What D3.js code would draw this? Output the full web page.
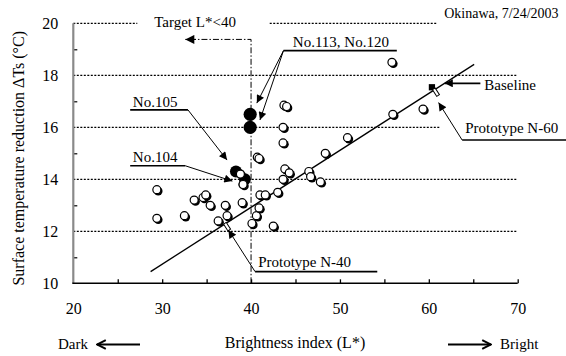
<!DOCTYPE html>
<html>
<head>
<meta charset="utf-8">
<script src="https://cdn.jsdelivr.net/npm/d3@7"></script>
<style>
  body { margin: 0; background: #fff; }
  svg text { font-family: "Liberation Serif", "Times New Roman", Times, serif; fill: #000; }
</style>
</head>
<body>
<div id="chart"></div>
<script>
// open markers: brightness index L* vs surface temperature reduction (deg C)
var sampleL = [29.4, 29.4, 32.5, 33.6, 34.6, 34.9, 35.4, 36.3, 37.1, 37.3, 38.8, 39.0, 39.1,
               40.1, 40.6, 40.9, 40.7, 40.9, 41.0, 41.6, 42.5, 43.0, 43.6, 43.8, 44.3, 43.6,
               43.6, 43.7, 44.0, 46.5, 46.7, 47.8, 48.35, 50.85, 55.95, 55.85, 59.35];
var sampleT = [12.5, 13.6, 12.6, 13.2, 13.3, 13.4, 13.0, 12.4, 13.0, 12.6, 14.2, 13.1, 13.8,
               12.3, 12.6, 12.9, 14.85, 14.8, 13.4, 13.4, 12.2, 13.5, 14.0, 14.4, 14.25, 15.4,
               16.0, 16.85, 16.8, 14.3, 14.1, 13.9, 15.0, 15.6, 16.5, 18.5, 16.7];

// filled markers: No.113, No.120, No.105, No.104
var pickNames = ["No.113", "No.120", "No.105", "No.104"];
var pickL = [39.9, 39.9, 38.3, 39.3];
var pickT = [16.5, 16.0, 14.3, 14.0];

var baselineL = 60.35, baselineT = 17.54;
var protoNames = ["Prototype N-60", "Prototype N-40"];
var protoL = [60.8, 37.3];
var protoT = [17.35, 12.18];

// trend line end points
var fitL = [28.7, 65.1];
var fitT = [10.45, 18.42];

var xTicks = [20, 30, 40, 50, 60, 70];
var xMinor = [25, 30, 35, 40, 45, 50, 55, 60, 65, 70];
var yTicks = [10, 12, 14, 16, 18, 20];
var yMinor = [11, 13, 15, 17, 19];
var targetL = 40;

var W = 566, H = 356;
var svg = d3.select("#chart").append("svg").attr("width", W).attr("height", H)
  .attr("font-family", "Liberation Serif, Times New Roman, serif");

var x = d3.scaleLinear().domain([20, 70]).range([73.3, 517.7]);
var y = d3.scaleLinear().domain([10, 20]).range([283.3, 23.3]);

var defs = svg.append("defs");
defs.append("marker").attr("id", "tri")
  .attr("viewBox", "0 0 10 10").attr("refX", 10).attr("refY", 5)
  .attr("markerUnits", "userSpaceOnUse").attr("markerWidth", 10).attr("markerHeight", 8)
  .attr("orient", "auto")
  .append("path").attr("d", "M0,0L10,5L0,10z").attr("fill", "#000");
defs.append("marker").attr("id", "bigtri")
  .attr("viewBox", "0 0 10 10").attr("refX", 10).attr("refY", 5)
  .attr("markerUnits", "userSpaceOnUse").attr("markerWidth", 13).attr("markerHeight", 9)
  .attr("orient", "auto")
  .append("path").attr("d", "M0,0L10,5L0,10z").attr("fill", "#000");
defs.append("marker").attr("id", "chev")
  .attr("viewBox", "0 0 10 10").attr("refX", 9).attr("refY", 5)
  .attr("markerUnits", "userSpaceOnUse").attr("markerWidth", 11).attr("markerHeight", 12)
  .attr("orient", "auto")
  .append("path").attr("d", "M1,1L9,5L1,9").attr("fill", "none")
  .attr("stroke", "#000").attr("stroke-width", 1.8);

// grid (dotted) - gaps where labels sit
var gridSpans = { 20: [[20, 27.2], [42.1, 60.95]], 16: [[20, 61.3]] };
yTicks.slice(1).forEach(function(t) {
  (gridSpans[t] || [[20, 70]]).forEach(function(s) {
    svg.append("line")
      .attr("x1", x(s[0])).attr("x2", x(s[1]))
      .attr("y1", y(t)).attr("y2", y(t))
      .attr("stroke", "#000").attr("stroke-width", 1.2)
      .attr("stroke-dasharray", "2,1.5");
  });
});

// axes
var yAxis = svg.append("g").attr("transform", "translate(" + x(20) + ",0)")
  .call(d3.axisLeft(y).tickValues(yTicks).tickSize(0).tickPadding(15));
yAxis.attr("font-family", null).attr("font-size", null);
yAxis.select(".domain").remove();
yAxis.selectAll("text").style("font-size", "16px");

svg.append("g").attr("transform", "translate(" + x(20) + ",0)")
  .call(d3.axisRight(y).tickValues(yMinor).tickSize(4).tickFormat(""))
  .call(function(g) { g.select(".domain").remove(); g.selectAll("line").attr("stroke-width", 1.2); });

svg.append("line")
  .attr("x1", x(20)).attr("x2", x(20)).attr("y1", y(20)).attr("y2", y(10))
  .attr("stroke", "#8a8a8a").attr("stroke-width", 2.2);

var xAxis = svg.append("g").attr("transform", "translate(0," + y(10) + ")")
  .call(d3.axisBottom(x).tickValues(xTicks).tickSize(0).tickPadding(19));
xAxis.attr("font-family", null).attr("font-size", null);
xAxis.select(".domain").remove();
xAxis.selectAll("text").style("font-size", "16px");

svg.append("g").attr("transform", "translate(0," + y(10) + ")")
  .call(d3.axisTop(x).tickValues(xMinor).tickSize(4).tickFormat(""))
  .call(function(g) { g.select(".domain").remove(); g.selectAll("line").attr("stroke-width", 1.3); });

svg.append("line")
  .attr("x1", x(20) - 1).attr("x2", x(70)).attr("y1", y(10)).attr("y2", y(10))
  .attr("stroke", "#000").attr("stroke-width", 1.5);

// axis titles
svg.append("text")
  .attr("transform", "translate(18," + ((y(10) + y(20)) / 2 + 5) + ") rotate(-90)")
  .attr("text-anchor", "middle").attr("dy", "0.35em")
  .style("font-size", "16px")
  .text("Surface temperature reduction \u0394Ts (\u00B0C)");

svg.append("text").attr("x", 295).attr("y", 348).attr("text-anchor", "middle")
  .style("font-size", "16px").text("Brightness index (L*)");

svg.append("text").attr("x", 58).attr("y", 349).style("font-size", "15px").text("Dark");
svg.append("line").attr("x1", 140).attr("x2", 97).attr("y1", 344.5).attr("y2", 344.5)
  .attr("stroke", "#000").attr("stroke-width", 1.8).attr("marker-end", "url(#chev)");
svg.append("text").attr("x", 500).attr("y", 349).style("font-size", "15px").text("Bright");
svg.append("line").attr("x1", 448).attr("x2", 491).attr("y1", 344.5).attr("y2", 344.5)
  .attr("stroke", "#000").attr("stroke-width", 1.8).attr("marker-end", "url(#chev)");

// target line L* = 40 (dash-dot)
svg.append("path")
  .attr("d", d3.line()([[x(targetL), y(10)], [x(targetL), y(19.38)], [x(33.6), y(19.38)]]))
  .attr("fill", "none").attr("stroke", "#000").attr("stroke-width", 1)
  .attr("stroke-dasharray", "6,2,1.5,2");
svg.append("line")
  .attr("x1", x(33.8)).attr("x2", x(32.6)).attr("y1", y(19.38)).attr("y2", y(19.38))
  .attr("stroke", "#000").attr("marker-end", "url(#bigtri)");
svg.append("text").attr("x", x(33.7)).attr("y", y(19.86)).attr("text-anchor", "middle")
  .style("font-size", "15px").text("Target L*<40");

svg.append("text").attr("x", x(74.6)).attr("y", y(20.22)).attr("text-anchor", "end")
  .style("font-size", "14px").text("Okinawa, 7/24/2003");

// trend line
svg.append("line")
  .attr("x1", x(fitL[0])).attr("y1", y(fitT[0]))
  .attr("x2", x(fitL[1])).attr("y2", y(fitT[1]))
  .attr("stroke", "#000").attr("stroke-width", 1.3);

// open sample markers with shadow
var samples = sampleL.map(function(l, i) { return { L: l, T: sampleT[i] }; });
var dots = svg.append("g");
samples.forEach(function(d) {
  dots.append("circle").attr("cx", x(d.L) + 1.4).attr("cy", y(d.T) + 1.4).attr("r", 4.3)
    .attr("fill", "#000");
  dots.append("circle").attr("cx", x(d.L)).attr("cy", y(d.T)).attr("r", 4)
    .attr("fill", "#fff").attr("stroke", "#000").attr("stroke-width", 1.2);
});

// highlighted samples
pickL.forEach(function(l, i) {
  svg.append("circle").attr("cx", x(l)).attr("cy", y(pickT[i]))
    .attr("r", i < 2 ? 6.6 : 6).attr("fill", "#000");
});
// open markers sitting on the No.105 / No.104 dots
[[38.8, 14.2], [39.1, 13.8]].forEach(function(p) {
  svg.append("circle").attr("cx", x(p[0])).attr("cy", y(p[1])).attr("r", 4)
    .attr("fill", "#fff").attr("stroke", "#000").attr("stroke-width", 1.2);
});

// baseline diamond
svg.append("path")
  .attr("d", d3.symbol().type(d3.symbolDiamond2).size(50)())
  .attr("transform", "translate(" + x(baselineL) + "," + y(baselineT) + ") rotate(45)")
  .attr("fill", "#000");

// prototype markers (small bars along the trend line)
var ang = Math.atan2(y(fitT[1]) - y(fitT[0]), x(fitL[1]) - x(fitL[0])) * 180 / Math.PI;
protoL.forEach(function(l, i) {
  svg.append("rect").attr("x", -1.6).attr("y", -4).attr("width", 3.2).attr("height", 8)
    .attr("transform", "translate(" + x(l) + "," + y(protoT[i]) + ") rotate(" + ang + ")")
    .attr("fill", "#fff").attr("stroke", "#000").attr("stroke-width", 1);
});

// callouts: label text, underline, leaders with arrowheads
function callout(text, tx, ty, ux0, ux1, uy, leaders) {
  svg.append("text").attr("x", x(tx)).attr("y", y(ty)).style("font-size", "15px").text(text);
  svg.append("line").attr("x1", x(ux0)).attr("x2", x(ux1)).attr("y1", y(uy)).attr("y2", y(uy))
    .attr("stroke", "#000").attr("stroke-width", 1.6);
  leaders.forEach(function(ld) {
    svg.append("line")
      .attr("x1", x(ld[0])).attr("y1", y(ld[1]))
      .attr("x2", x(ld[2])).attr("y2", y(ld[3]))
      .attr("stroke", "#000").attr("stroke-width", 1).attr("marker-end", "url(#tri)");
  });
}

callout(pickNames[0] + ", " + pickNames[1], 44.7, 19.09, 43.65, 56.4, 18.95,
  [[43.65, 18.95, 40.65, 16.93], [43.65, 18.95, 41.0, 16.28]]);
callout(pickNames[2], 26.7, 16.78, 26.4, 32.9, 16.67, [[32.9, 16.67, 37.3, 14.74]]);
callout(pickNames[3], 26.7, 14.67, 26.4, 32.6, 14.52, [[32.6, 14.52, 37.9, 13.93]]);
callout(protoNames[0], 64.1, 15.78, 63.75, 76, 15.51, [[63.75, 15.51, 61.1, 16.95]]);
callout(protoNames[1], 40.8, 10.63, 40.45, 54.2, 10.45, [[40.45, 10.45, 37.45, 12.05]]);

svg.append("text").attr("x", x(66.25)).attr("y", y(17.63)).attr("dy", "0.35em")
  .style("font-size", "15px").text("Baseline");
svg.append("line").attr("x1", x(65.8)).attr("x2", x(61.8))
  .attr("y1", y(17.69)).attr("y2", y(17.69))
  .attr("stroke", "#000").attr("stroke-width", 1.8).attr("marker-end", "url(#tri)");
</script>
</body>
</html>
